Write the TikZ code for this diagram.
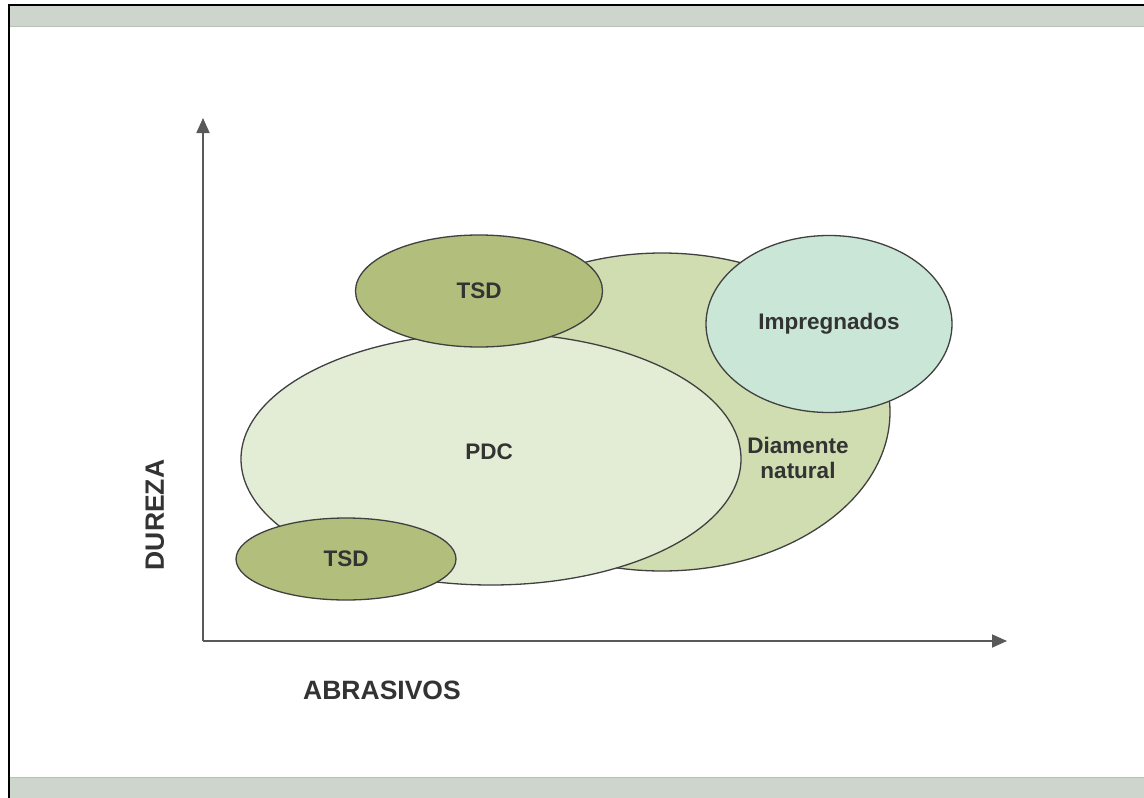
\documentclass[tikz,border=0pt]{standalone}
\usepackage{fontspec}
\setmainfont{Liberation Sans}
\usetikzlibrary{arrows.meta}
\usetikzlibrary{shapes.geometric}
\definecolor{band}{HTML}{CDD5CC}
\definecolor{bandline}{HTML}{B8BFB7}
\definecolor{ink}{HTML}{333333}
\definecolor{natgreen}{HTML}{CFDDB0}
\definecolor{pdcgreen}{HTML}{E3EDD6}
\definecolor{tsdgreen}{HTML}{B2BE7C}
\definecolor{impgreen}{HTML}{CAE6D6}
\tikzset{
  blob/.style={ellipse, draw=black!75, line width=1.3pt, inner sep=0pt, text=ink,
    font=\fontsize{22.5}{26}\selectfont\bfseries},
  axis/.style={draw=black!65, line width=1.8pt, -{Triangle[length=15pt,width=13pt]}},
  axislabel/.style={text=ink, font=\fontsize{26.5}{30}\selectfont\bfseries}
}

\begin{document}
\begin{tikzpicture}[x=1pt,y=-1pt]
\useasboundingbox (0,0) rectangle (1144,798);
\fill[white] (0,0) rectangle (1144,798);
\fill[band] (8,4) rectangle (1144,26);
\draw[bandline, line width=1.2pt] (8,26.5)--(1144,26.5);
\fill[band] (8,778) rectangle (1144,798);
\draw[bandline, line width=1.2pt] (8,777.5)--(1144,777.5);
\draw[black, line width=2pt] (8.5,798)--(8.5,4.5)--(1144,4.5);

\node[blob, fill=natgreen, minimum width=456pt, minimum height=318pt] (dnat) at (662,412) {};
\node[blob, fill=pdcgreen, minimum width=500pt, minimum height=252pt] (pdc) at (491,459) {};
\node[blob, fill=tsdgreen, minimum width=247pt, minimum height=112pt] (tsdA) at (479,291) {TSD};
\node[blob, fill=impgreen, minimum width=246pt, minimum height=177pt] (imp) at (829,324) {Impregnados};
\node[blob, fill=tsdgreen, minimum width=220pt, minimum height=82pt] (tsdB) at (346,559) {TSD};
\node[text=ink, font=\fontsize{22.5}{26}\selectfont\bfseries] (pdclbl) at (489,452) {PDC};
\node[text=ink, align=center, font=\fontsize{22.5}{25}\selectfont\bfseries] (natlbl) at (798,458) {Diamente\\natural};

\coordinate (O) at (203,641);
\coordinate (ytop) at (203,118);
\coordinate (xend) at (1007,641);
\draw[axis] (O)--(ytop);
\draw[axis] (O)--(xend);
\node[axislabel, rotate=90] (dureza) at (155,515) {DUREZA};
\node[axislabel] (abras) at (382,690) {ABRASIVOS};
\end{tikzpicture}
\end{document}
